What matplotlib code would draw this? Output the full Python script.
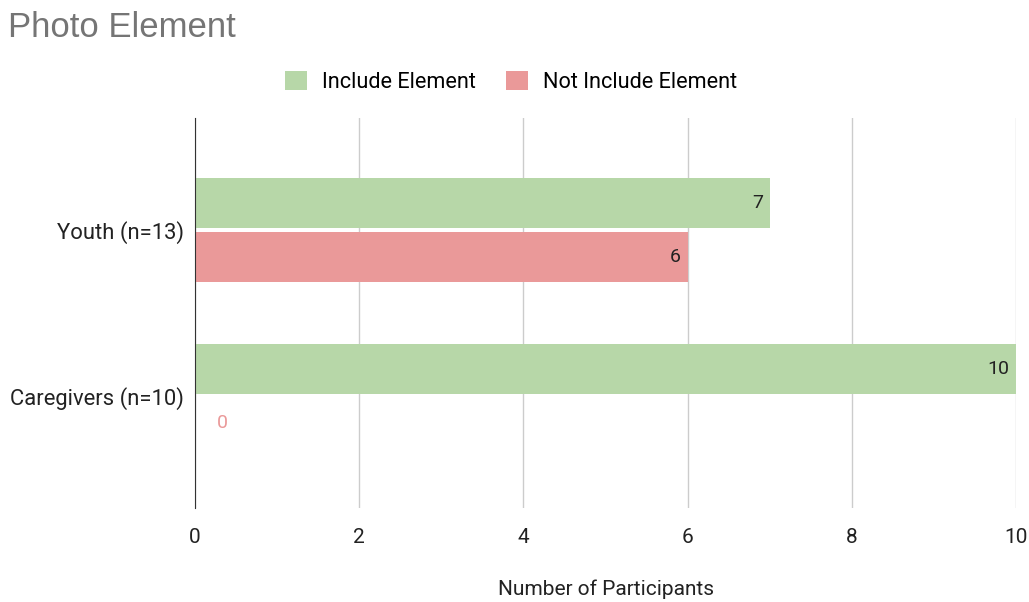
import numpy as np
import matplotlib.pyplot as plt
from matplotlib.patches import Patch

groups = ["Youth (n=13)", "Caregivers (n=10)"]
include = [7, 10]
not_include = [6, 0]
series_names = ["Include Element", "Not Include Element"]
xticks = [0, 2, 4, 6, 8, 10]

GREEN = "#b7d7a8"
RED = "#ea9999"

plt.rcParams["font.family"] = ["Roboto", "DejaVu Sans"]

fig = plt.figure(figsize=(10.29, 6.02), dpi=100)
ax = fig.add_axes([0.1895, 0.156, 0.7979, 0.648])

y = np.arange(len(groups))
h = 0.3
off = 0.162
b1 = ax.barh(y - off, include, height=h, color=GREEN, zorder=3)
b2 = ax.barh(y + off, not_include, height=h, color=RED, zorder=3)

# valeurs a l'interieur du bout de chaque barre
for bars, vals, col in [(b1, include, GREEN), (b2, not_include, RED)]:
    for rect, v in zip(bars, vals):
        cy = rect.get_y() + rect.get_height() / 2
        if v > 0:
            ax.annotate(str(v), (v, cy), xytext=(-5, 0), textcoords="offset points",
                        ha="right", va="center", fontsize=14, color="#222222", zorder=4)
        else:
            ax.annotate(str(v), (v, cy), xytext=(20, 0), textcoords="offset points",
                        ha="center", va="center", fontsize=14, color=col, zorder=4)

ax.set_xlim(0, 10)
ax.set_ylim(1.67, -0.67)
ax.set_xticks(xticks)
ax.set_yticks(y)
ax.set_yticklabels(groups)
ax.tick_params(length=0, labelsize=15, colors="#222222")
ax.tick_params(axis="y", pad=8, labelsize=15.8)
ax.tick_params(axis="x", pad=14)
ax.grid(axis="x", color="#cccccc", linewidth=1, zorder=0)
for s in ["top", "right", "bottom"]:
    ax.spines[s].set_visible(False)
ax.spines["left"].set_color("#333333")
ax.spines["left"].set_zorder(5)
ax.set_xlabel("Number of Participants", fontsize=15, color="#222222", labelpad=24)

fig.text(0.008, 0.955, "Photo Element", fontsize=25, color="#757575",
         family="Liberation Sans", va="center")

handles = [Patch(facecolor=GREEN, edgecolor="none"), Patch(facecolor=RED, edgecolor="none")]
fig.legend(handles, series_names, loc="center", bbox_to_anchor=(0.497, 0.864), ncol=2,
           frameon=False, fontsize=15.6, handlelength=1.0, handleheight=1.0,
           handletextpad=0.7, columnspacing=1.4)

fig.savefig("out.png", dpi=100)
